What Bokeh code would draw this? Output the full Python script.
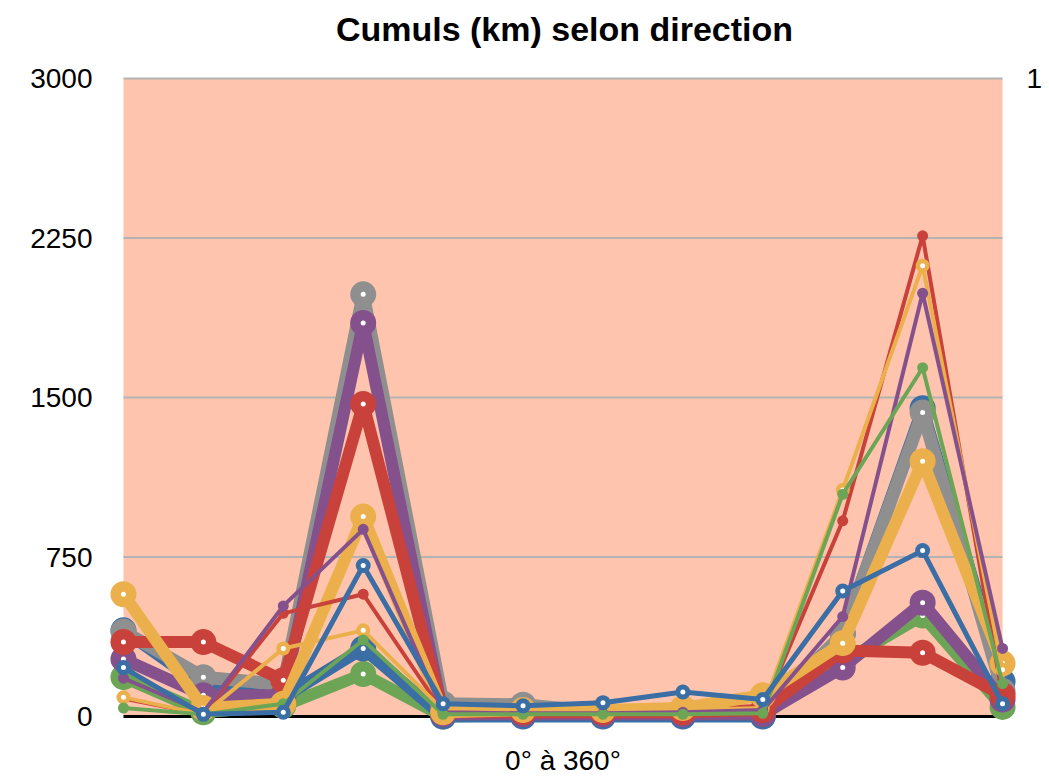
from bokeh.plotting import figure
from bokeh.models import Range1d, FixedTicker, LinearAxis, BoxAnnotation, Label
from bokeh.embed import file_html
from bokeh.resources import INLINE

# directions (degrees) for the 12 sectors
directions = [0, 30, 60, 90, 120, 150, 180, 210, 240, 270, 300, 330]

# thick series
bleu_1 = [405, 140, 90, 320, 0, 0, 0, 0, 0, 390, 1450, 165]
gris_1 = [400, 185, 150, 1985, 60, 55, 20, 20, 20, 385, 1430, 120]
violet_1 = [270, 100, 100, 1850, 10, 10, 10, 10, 10, 230, 535, 80]
rouge_1 = [350, 350, 170, 1470, 20, 20, 20, 20, 30, 310, 300, 100]
jaune_1 = [575, 40, 60, 940, 20, 30, 30, 40, 100, 345, 1200, 250]
vert_1 = [185, 20, 50, 200, 0, 5, 5, 5, 5, 255, 475, 45]

# thin series
rouge_2 = [85, 10, 485, 575, 20, 15, 15, 15, 30, 920, 2260, 90]
jaune_2 = [90, 10, 320, 405, 30, 25, 25, 30, 40, 1065, 2120, 220]
violet_2 = [180, 20, 520, 880, 20, 15, 15, 20, 30, 470, 1990, 320]
vert_2 = [40, 10, 60, 360, 10, 10, 10, 10, 15, 1045, 1640, 155]
bleu_2 = [230, 10, 20, 710, 60, 50, 65, 115, 80, 590, 780, 60]

y_ticks = [0, 750, 1500, 2250, 3000]

title_text = "Cumuls (km) selon direction"
x_title = "0° à 360°"

BLUE = "#3B6EA5"
GRAY = "#8F8F8F"
PURPLE = "#85518D"
RED = "#C9413B"
YELLOW = "#EBB04C"
GREEN = "#6CA556"
SALMON = "#FFC4AD"

W, H = 1045, 779
BL, BR, BT, BB = 109, 26, 4, 49
FW, FH = W - BL - BR, H - BT - BB

x_lo, x_hi = directions[0], directions[-1]
y_lo, y_hi = y_ticks[0], y_ticks[-1]
# margins (in data units) around the plotted area: markers at edges stay whole,
# and the white space above holds the title
x_pad = (x_hi - x_lo) * 14.0 / 882.0
y_pad = (y_hi - y_lo) * 14.0 / 638.0
y_top = y_hi + (y_hi - y_lo) * 74.0 / 638.0

p = figure(width=W, height=H,
           x_range=Range1d(x_lo - x_pad, x_hi + x_pad),
           y_range=Range1d(y_lo - y_pad, y_top),
           output_backend="svg", toolbar_location=None,
           min_border_left=BL, min_border_right=BR, min_border_top=BT, min_border_bottom=BB)

p.background_fill_color = "white"
p.border_fill_color = "white"
p.outline_line_color = None

p.add_layout(BoxAnnotation(left=x_lo, right=x_hi, bottom=y_lo, top=y_hi,
                           fill_color=SALMON, fill_alpha=1.0, line_color=None,
                           level="underlay"))

# title, in the white band above the plotted area
p.add_layout(Label(x=FW / 2, y=FH - 24, x_units="screen", y_units="screen",
                   text=title_text, text_align="center", text_baseline="middle",
                   text_font="Liberation Sans", text_font_size="34px",
                   text_font_style="bold", text_color="black"))

p.xgrid.visible = False
p.ygrid.visible = False

# horizontal grid lines across the plotted area only
grid_y = y_ticks[1:]
p.segment(x0=[x_lo] * len(grid_y), x1=[x_hi] * len(grid_y), y0=grid_y, y1=grid_y,
          line_color="#B3B3B3", line_width=2)
# baseline at zero
p.line([x_lo, x_hi], [y_lo, y_lo], line_color="black", line_width=3)

ya = p.yaxis[0]
ya.ticker = FixedTicker(ticks=y_ticks)
ya.axis_line_color = None
ya.major_tick_line_color = None
ya.minor_tick_line_color = None
ya.major_tick_out = 0
ya.major_tick_in = 0
ya.major_label_standoff = 17
ya.major_label_text_font = "Liberation Sans"
ya.major_label_text_font_size = "28px"
ya.major_label_text_color = "black"

xa = p.xaxis[0]
xa.ticker = FixedTicker(ticks=[])
xa.axis_line_color = None
xa.major_tick_line_color = None
xa.minor_tick_line_color = None
xa.major_tick_out = 0
xa.major_tick_in = 0
xa.major_label_text_font_size = "0px"
xa.axis_label = x_title
xa.axis_label_text_font = "Liberation Sans"
xa.axis_label_text_font_size = "28px"
xa.axis_label_text_font_style = "normal"
xa.axis_label_text_color = "black"
xa.axis_label_standoff = 14

# right axis: its "1" sits at the level of the top grid line
p.extra_y_ranges = {"right": Range1d((y_lo - y_pad) / y_hi, y_top / y_hi)}
ra = LinearAxis(y_range_name="right", ticker=FixedTicker(ticks=[1]))
ra.axis_line_color = None
ra.major_tick_line_color = None
ra.minor_tick_line_color = None
ra.major_tick_out = 0
ra.major_tick_in = 0
ra.major_label_standoff = 10
ra.major_label_text_font = "Liberation Sans"
ra.major_label_text_font_size = "28px"
ra.major_label_text_color = "black"
p.add_layout(ra, "right")


def draw(vals, color, lw, msize, ring):
    p.line(directions, vals, line_color=color, line_width=lw, line_join="round", line_cap="round")
    p.scatter(directions, vals, size=msize, fill_color=color, line_color=None)
    if ring:
        p.scatter(directions, vals, size=5, fill_color="white", line_color=None)


draw(vert_1, GREEN, 12, 26, True)
draw(bleu_1, BLUE, 12, 26, True)
draw(gris_1, GRAY, 13, 26, True)
draw(violet_1, PURPLE, 12, 26, True)
draw(rouge_1, RED, 12, 26, True)
draw(jaune_1, YELLOW, 12, 26, True)

draw(rouge_2, RED, 4, 11, False)
draw(jaune_2, YELLOW, 4, 14, True)
draw(violet_2, PURPLE, 4, 11, False)
draw(vert_2, GREEN, 4, 11, False)
draw(bleu_2, BLUE, 5, 15, True)

open("out.html", "w").write(file_html(p, INLINE))
